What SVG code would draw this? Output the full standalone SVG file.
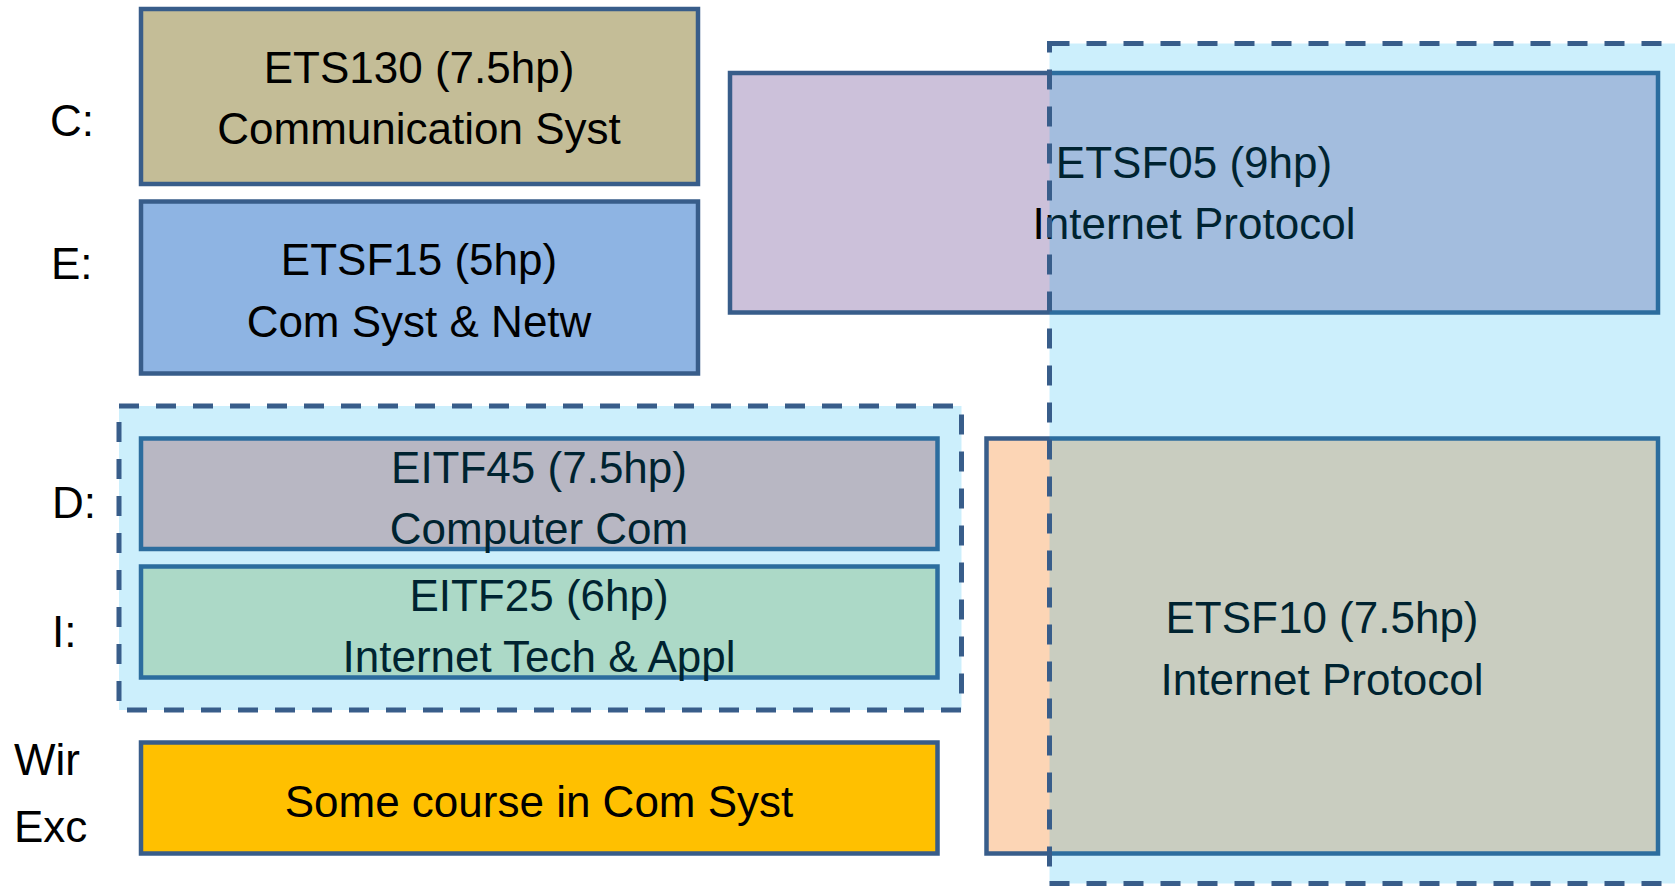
<svg xmlns="http://www.w3.org/2000/svg" width="1675" height="886" viewBox="0 0 1675 886">
<style>
.box{stroke:#385D8A;stroke-width:4.5}
.grp{fill:#00B0F0;fill-opacity:0.2;stroke:#385D8A;stroke-width:5;stroke-dasharray:20 17}
text{font-family:"Liberation Sans",Arial,sans-serif;font-size:44px;fill:#000}
.c{text-anchor:middle}
</style>
<rect width="1675" height="886" fill="#fff"/>
<g id="labels">
<text x="50" y="136">C:</text>
<text x="51" y="279">E:</text>
<text x="52" y="518">D:</text>
<text x="52" y="647">I:</text>
<text x="14" y="775">Wir</text>
<text x="14" y="842">Exc</text>
</g>
<g id="ETS130">
<rect class="box" x="141" y="9" width="557" height="175" fill="#C4BD97"/>
<text class="c" x="419" y="83">ETS130 (7.5hp)</text>
<text class="c" x="419" y="144">Communication Syst</text>
</g>
<g id="ETSF15">
<rect class="box" x="141" y="201.5" width="557" height="172" fill="#8EB4E3"/>
<text class="c" x="419" y="275">ETSF15 (5hp)</text>
<text class="c" x="419" y="337">Com Syst &amp; Netw</text>
</g>
<g id="EITF45">
<rect class="box" x="141" y="438.5" width="796.5" height="110.5" fill="#E6B9B8"/>
<text class="c" x="539" y="483">EITF45 (7.5hp)</text>
<text class="c" x="539" y="544">Computer Com</text>
</g>
<g id="EITF25">
<rect class="box" x="141" y="566.5" width="796.5" height="111" fill="#D7E4BD"/>
<text class="c" x="539" y="611">EITF25 (6hp)</text>
<text class="c" x="539" y="672">Internet Tech &amp; Appl</text>
</g>
<g id="SomeCourse">
<rect class="box" x="141" y="742.5" width="796.5" height="111" fill="#FFC000"/>
<text class="c" x="539" y="817">Some course in Com Syst</text>
</g>
<g id="ETSF05">
<rect class="box" x="730" y="73" width="928" height="239.5" fill="#CCC1DA"/>
<text class="c" x="1194" y="178">ETSF05 (9hp)</text>
<text class="c" x="1194" y="239">Internet Protocol</text>
</g>
<g id="ETSF10">
<rect class="box" x="986.5" y="438.5" width="671.5" height="415" fill="#FCD5B5"/>
<text class="c" x="1322" y="633">ETSF10 (7.5hp)</text>
<text class="c" x="1322" y="695">Internet Protocol</text>
</g>
<g id="groupLeft">
<rect class="grp" x="119" y="406" width="842.5" height="304"/>
</g>
<g id="groupRight">
<rect class="grp" x="1049.5" y="43.5" width="700" height="840"/>
</g>
<g id="connectors"></g>
</svg>
